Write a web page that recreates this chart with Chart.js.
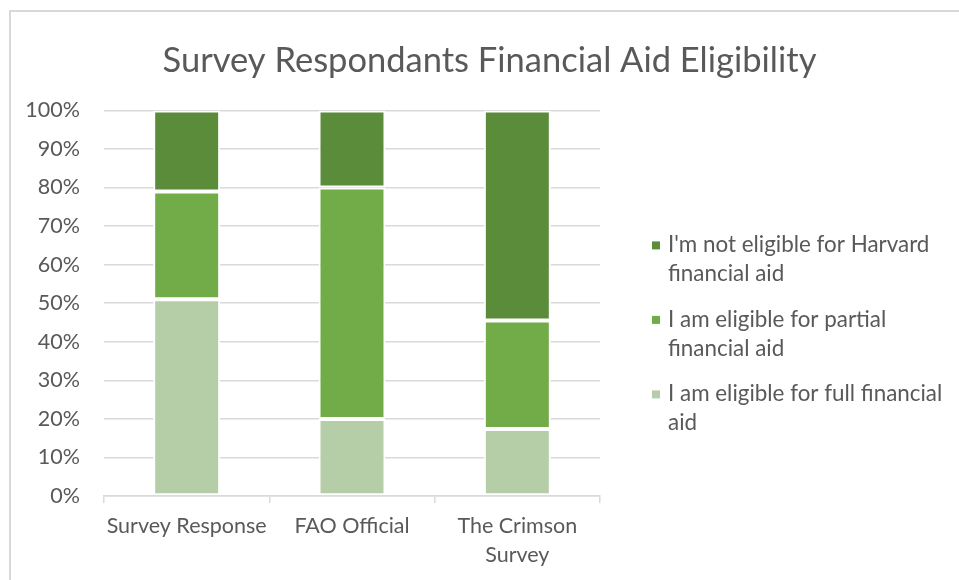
<!DOCTYPE html>
<html>
<head>
<meta charset="utf-8">
<script src="https://cdn.jsdelivr.net/npm/chart.js@4/dist/chart.umd.min.js"></script>
<style>
  html, body { margin: 0; padding: 0; background: #ffffff; }
  #wrap { position: relative; width: 959px; height: 580px; }
  canvas { display: block; }
</style>
</head>
<body>
<div id="wrap"><canvas id="chart" width="959" height="580"></canvas></div>
<script>
// Categories along the x axis (array entries wrap onto two lines)
const categories = ['Survey Response', 'FAO Official', ['The Crimson', 'Survey']];

// Share of respondents (%) in each eligibility group
const fullAid     = [51, 20, 17.4];
const partialAid  = [28, 60, 28.1];
const notEligible = [21, 20, 54.5];

// Series names, split into the lines shown in the legend
const fullAidName     = ['I am eligible for full financial', 'aid'];
const partialAidName  = ['I am eligible for partial', 'financial aid'];
const notEligibleName = ["I'm not eligible for Harvard", 'financial aid'];

// Value axis ticks
const yTickMin = 0;
const yTickMax = 100;
const yTickStep = 10;

const FONT = 'Lato, "Open Sans", sans-serif';
const TEXT = '#595959';
const GRID = '#d9d9d9';

// Legend drawn at the right of the plot, lines wrapped as in the series names
const sideLegend = {
  id: 'sideLegend',
  afterDraw(chart) {
    const ctx = chart.ctx;
    const area = chart.chartArea;
    const x0 = area.right + 52;
    const firstBaseline = area.top + 142;
    const itemGap = 74.5;
    const lineGap = 29;
    ctx.save();
    ctx.font = '22.4px ' + FONT;
    ctx.textBaseline = 'alphabetic';
    ctx.textAlign = 'left';
    // top-to-bottom order follows the stack from the top down
    const order = chart.data.datasets.map((d, i) => i).reverse();
    order.forEach((di, k) => {
      const ds = chart.data.datasets[di];
      const base = firstBaseline + k * itemGap;
      ctx.fillStyle = ds.backgroundColor;
      ctx.fillRect(x0, base - 11, 8, 8);
      ctx.fillStyle = TEXT;
      ds.legendLines.forEach((line, j) => {
        ctx.fillText(line, x0 + 16, base + j * lineGap);
      });
    });
    ctx.restore();
  }
};

// Chart frame
const frame = {
  id: 'frame',
  beforeDraw(chart) {
    const ctx = chart.ctx;
    ctx.save();
    ctx.strokeStyle = GRID;
    ctx.lineWidth = 2;
    ctx.beginPath();
    ctx.moveTo(10, chart.height + 5);
    ctx.lineTo(10, 11);
    ctx.lineTo(chart.width + 5, 11);
    ctx.stroke();
    ctx.restore();
  }
};

function series(name, values, color) {
  return {
    label: name.join(' '),
    legendLines: name,
    data: values,
    backgroundColor: color,
    borderColor: '#ffffff',
    borderWidth: 2,
    borderSkipped: false,
    barPercentage: 0.405,
    categoryPercentage: 1.0
  };
}

new Chart(document.getElementById('chart'), {
  type: 'bar',
  data: {
    labels: categories,
    datasets: [
      series(fullAidName, fullAid, '#B5CEA7'),
      series(partialAidName, partialAid, '#71AC48'),
      series(notEligibleName, notEligible, '#5B8C39')
    ]
  },
  plugins: [frame, sideLegend],
  options: {
    responsive: false,
    devicePixelRatio: 1,
    animation: false,
    layout: { padding: { left: 20, right: 0, top: 40, bottom: 0 } },
    plugins: {
      legend: { display: false },
      tooltip: { enabled: false },
      title: {
        display: true,
        text: 'Survey Respondants Financial Aid Eligibility',
        color: TEXT,
        font: { family: FONT, size: 34.5, weight: 'normal', lineHeight: 1.2 },
        padding: { top: 0, bottom: 29 }
      }
    },
    scales: {
      x: {
        stacked: true,
        z: 1,
        grid: {
          display: true,
          drawOnChartArea: false,
          drawTicks: true,
          tickLength: 7,
          color: GRID,
          lineWidth: 1.5
        },
        border: { display: true, color: GRID, width: 1.5 },
        ticks: {
          color: TEXT,
          font: { family: FONT, size: 21.5, lineHeight: 1.35 },
          padding: 9,
          maxRotation: 0,
          autoSkip: false
        },
        afterFit(scale) { scale.height = 84; }
      },
      y: {
        stacked: true,
        min: yTickMin,
        max: yTickMax,
        grid: { color: GRID, lineWidth: 1.5, drawTicks: false },
        border: { display: false },
        ticks: {
          stepSize: yTickStep,
          color: TEXT,
          font: { family: FONT, size: 21.5 },
          padding: 24,
          callback: v => v + '%'
        },
        afterFit(scale) { scale.width = 84; }
      },
      side: {
        position: 'right',
        display: true,
        grid: { display: false },
        border: { display: false },
        ticks: { display: false },
        afterFit(scale) { scale.width = 359; }
      }
    }
  }
});
</script>
</body>
</html>
